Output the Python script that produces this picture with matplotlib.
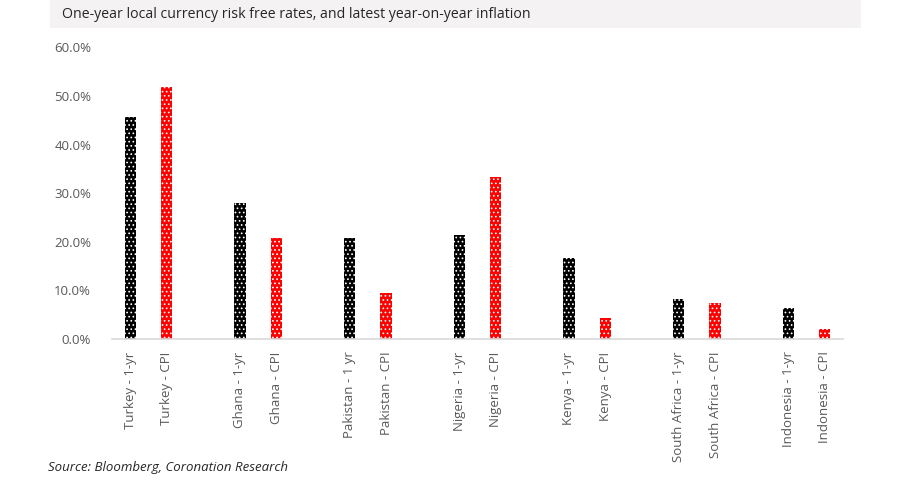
import numpy as np
import matplotlib.pyplot as plt
from matplotlib.patches import Rectangle
from matplotlib.ticker import FuncFormatter

# ── Data ───────────────────────────────────────────────────────────────────
COUNTRIES = ['Turkey', 'Ghana', 'Pakistan', 'Nigeria', 'Kenya',
             'South Africa', 'Indonesia']
RATE_LABELS = ['Turkey - 1-yr', 'Ghana - 1-yr', 'Pakistan - 1 yr',
               'Nigeria - 1-yr', 'Kenya - 1-yr', 'South Africa - 1-yr',
               'Indonesia - 1-yr']
CPI_LABELS = ['Turkey - CPI', 'Ghana - CPI', 'Pakistan - CPI',
              'Nigeria - CPI', 'Kenya - CPI', 'South Africa - CPI',
              'Indonesia - CPI']
RATE_1YR = [45.7, 27.9, 20.8, 21.4, 16.7, 8.2, 6.4]   # %
CPI_YOY  = [51.8, 20.8, 9.4, 33.3, 4.3, 7.5, 2.0]     # %
Y_TICKS  = [0, 10, 20, 30, 40, 50, 60]

TITLE  = 'One-year local currency risk free rates, and latest year-on-year inflation'
SOURCE = 'Source: Bloomberg, Coronation Research'

# ── Style ──────────────────────────────────────────────────────────────────
plt.rcParams['font.family'] = ['Open Sans', 'DejaVu Sans']
plt.rcParams['hatch.linewidth'] = 0.7
GREY_TXT = '#595959'
BAR_W = 0.31

# ── Plot ───────────────────────────────────────────────────────────────────
fig = plt.figure(figsize=(9, 4.84), dpi=100)
ax = fig.add_axes([0.1244, 0.2996, 0.8123, 0.6027])

# each country gets three slots: 1-yr, CPI, blank gap
x_rate = np.arange(len(COUNTRIES)) * 3
x_cpi = x_rate + 1

ax.bar(x_rate, RATE_1YR, width=BAR_W, color='black', edgecolor='white',
       linewidth=0, hatch='....')
ax.bar(x_cpi, CPI_YOY, width=BAR_W, color='#ff0000', edgecolor='white',
       linewidth=0, hatch='....')

ax.set_xlim(-0.5, len(COUNTRIES) * 3 - 1.5)
ax.set_ylim(0, 60)
ax.set_yticks(Y_TICKS)
ax.yaxis.set_major_formatter(FuncFormatter(lambda v, _: f'{v:.1f}%'))

ticks = np.ravel(np.column_stack([x_rate, x_cpi]))
labels = [l for pair in zip(RATE_LABELS, CPI_LABELS) for l in pair]
ax.set_xticks(ticks)
ax.set_xticklabels(labels, rotation=90, va='top', ha='center')

ax.tick_params(axis='both', length=0, labelsize=9.5, colors=GREY_TXT)
ax.tick_params(axis='y', pad=15)
ax.tick_params(axis='x', pad=9)
for s in ['top', 'right', 'left']:
    ax.spines[s].set_visible(False)
ax.spines['bottom'].set_color('#d9d9d9')
ax.spines['bottom'].set_linewidth(1.2)

# title band
fig.patches.append(Rectangle((50 / 900, 1 - 28 / 484), 811 / 900, 28 / 484,
                             transform=fig.transFigure, facecolor='#f4f2f2',
                             edgecolor='none', zorder=0))
fig.text(62 / 900, 1 - 14 / 484, TITLE, fontsize=10.2, color='#262626',
         va='center', ha='left')
fig.text(48 / 900, 1 - 467 / 484, SOURCE, fontsize=9.5, color='#262626',
         style='italic', va='center', ha='left')

fig.savefig('out.png', dpi=100)
